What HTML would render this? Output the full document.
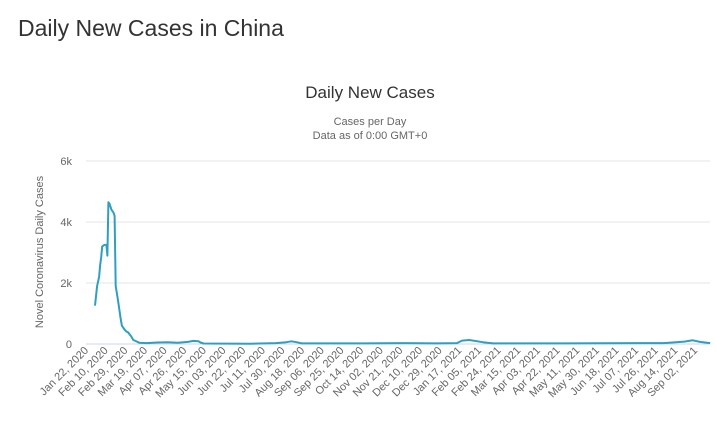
<!DOCTYPE html>
<html><head><meta charset="utf-8"><style>
body{margin:0;width:717px;height:421px;background:#fff;font-family:"Liberation Sans",sans-serif;overflow:hidden}
h1{position:absolute;left:18px;top:15px;margin:0;font-weight:normal;font-size:23px;color:#333}
</style></head><body>
<h1>Daily New Cases in China</h1>
<svg id="c" width="717" height="421" style="position:absolute;left:0;top:0">
<text x="370" y="98" text-anchor="middle" font-size="17" fill="#333">Daily New Cases</text>
<text x="370" y="125" text-anchor="middle" font-size="11" fill="#666">Cases per Day</text>
<text x="370" y="139" text-anchor="middle" font-size="11" fill="#666">Data as of 0:00 GMT+0</text>
<text transform="translate(43,252) rotate(-90)" text-anchor="middle" font-size="11" fill="#666">Novel Coronavirus Daily Cases</text>
</svg>
<script>
const yTicks=[0,2000,4000,6000];
const yTickLabels=["0","2k","4k","6k"];
const xLabels=["Jan 22, 2020","Feb 10, 2020","Feb 29, 2020","Mar 19, 2020","Apr 07, 2020","Apr 26, 2020","May 15, 2020","Jun 03, 2020","Jun 22, 2020","Jul 11, 2020","Jul 30, 2020","Aug 18, 2020","Sep 06, 2020","Sep 25, 2020","Oct 14, 2020","Nov 02, 2020","Nov 21, 2020","Dec 10, 2020","Dec 29, 2020","Jan 17, 2021","Feb 05, 2021","Feb 24, 2021","Mar 15, 2021","Apr 03, 2021","Apr 22, 2021","May 11, 2021","May 30, 2021","Jun 18, 2021","Jul 07, 2021","Jul 26, 2021","Aug 14, 2021","Sep 02, 2021"];
const days=[0,2,4,5,6,7,9,11,12,13,14,16,18,19,20,22,25,26,28,30,32,35,37,39,43,50,60,70,80,90,95,100,102,105,150,175,185,190,195,200,260,300,330,350,355,362,375,385,450,550,570,578,585,595];
const cases=[1260,1900,2200,2600,2850,3200,3250,3250,2900,4650,4600,4400,4300,4200,1900,1500,800,600,500,420,380,250,130,100,40,30,50,60,40,70,100,90,50,15,10,30,60,90,60,20,20,30,20,30,110,130,60,20,20,30,80,120,70,30];
const svg=document.getElementById('c'),NS='http://www.w3.org/2000/svg';
const x=d=>95+d*1.034, y=v=>344-v*183/6000;
function mk(t,a){const e=document.createElementNS(NS,t);for(const k in a)e.setAttribute(k,a[k]);svg.appendChild(e);return e;}
yTicks.forEach((v,i)=>{
 const g=mk('line',{x1:86,x2:710,y1:y(v),y2:y(v),stroke:i?'#e6e6e6':'#ccd6eb'});
 
 
 const t=mk('text',{x:72,y:y(v)+4,'text-anchor':'end','font-size':11,fill:'#666'});
 t.textContent=yTickLabels[i];
 
 
});
xLabels.forEach((l,i)=>{
 const px=x(i*19)-6;
 const t=mk('text',{transform:`translate(${px},${351}) rotate(-45)`,'text-anchor':'end','font-size':11,fill:'#666'});
 t.textContent=l;
 
 
});
const p=mk('path',{d:days.map((d,i)=>(i?'L':'M')+x(d).toFixed(1)+','+y(cases[i]).toFixed(1)).join(''),fill:'none',stroke:'#2f9fc0','stroke-width':2,'stroke-linejoin':'round'});


</script>
</body></html>
